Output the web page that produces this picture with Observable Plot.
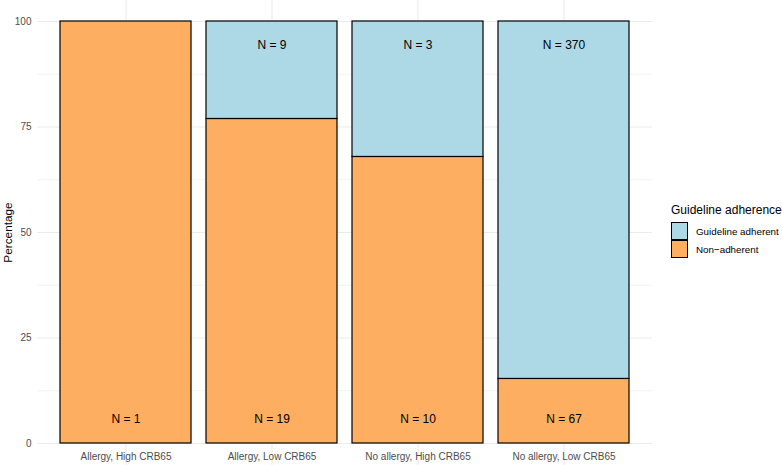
<!DOCTYPE html>
<html>
<head>
<meta charset="utf-8">
<script src="https://cdn.jsdelivr.net/npm/d3@7"></script>
<script src="https://cdn.jsdelivr.net/npm/@observablehq/plot@0.6"></script>
<style>
  html, body { margin: 0; padding: 0; background: #fff; }
  #wrap { position: relative; width: 782px; height: 465px; font-family: "Liberation Sans", Arial, sans-serif; }
  #legend { position: absolute; left: 671px; top: 203px; font-family: "Liberation Sans", Arial, sans-serif; }
  #legend .title { font-size: 12px; color: #000; margin-bottom: 5px; }
  #legend .item { display: flex; align-items: center; height: 18px; }
  #legend .sw { width: 17px; height: 18px; border: 1.2px solid #000; box-sizing: border-box; margin-right: 8px; }
  #legend .lab { font-size: 9.8px; color: #000; }
</style>
</head>
<body>
<div id="wrap"></div>
<script>
const categories = ["Allergy, High CRB65", "Allergy, Low CRB65", "No allergy, High CRB65", "No allergy, Low CRB65"];
const groups = ["Guideline adherent", "Non\u2212adherent"];
const nonAdherentPct = [100, 76.9, 67.9, 15.3];
const adherentPct = [0, 23.1, 32.1, 84.7];
const nonAdherentN = [1, 19, 10, 67];
const adherentN = [null, 9, 3, 370];
const colors = ["#ADD8E6", "#FDAE61"];
const majorTicks = [0, 25, 50, 75, 100];
const minorTicks = [12.5, 37.5, 62.5, 87.5];

const rows = [];
categories.forEach((c, i) => {
  rows.push({cat: c, group: groups[1], pct: nonAdherentPct[i], n: nonAdherentN[i], ord: 0});
  rows.push({cat: c, group: groups[0], pct: adherentPct[i], n: adherentN[i], ord: 1});
});
const bottomLabels = categories.map((c, i) => ({cat: c, label: "N = " + nonAdherentN[i]}));
const topLabels = categories.map((c, i) => ({cat: c, n: adherentN[i]})).filter(d => d.n != null).map(d => ({cat: d.cat, label: "N = " + d.n}));

const chart = Plot.plot({
  width: 782,
  height: 465,
  marginLeft: 37,
  marginRight: 130,
  marginTop: 21,
  marginBottom: 22,
  style: {fontFamily: "'Liberation Sans', Arial, sans-serif", background: "transparent", overflow: "visible"},
  x: {domain: categories, paddingInner: 0.1, paddingOuter: 0.15, label: null},
  y: {domain: [0, 100], label: null},
  color: {domain: groups, range: colors},
  marks: [
    Plot.ruleY(minorTicks, {stroke: "#ebebeb", strokeWidth: 0.6}),
    Plot.ruleY(majorTicks, {stroke: "#ebebeb", strokeWidth: 1.1}),
    Plot.ruleX(categories, {x: d => d, y1: -5.2, y2: 105, stroke: "#ebebeb", strokeWidth: 1.1}),
    Plot.barY(rows, Plot.stackY({x: "cat", y: "pct", fill: "group", order: "ord", stroke: "#000", strokeWidth: 1.2, inset: 0})),
    Plot.text(bottomLabels, {x: "cat", y: 5.7, text: "label", fontSize: 12, fill: "#000"}),
    Plot.text(topLabels, {x: "cat", y: 94.3, text: "label", fontSize: 12, fill: "#000"}),
    Plot.axisY({ticks: majorTicks, tickSize: 0, tickPadding: 6, fontSize: 10, color: "#4d4d4d", label: null}),
    Plot.axisX({tickSize: 0, tickPadding: 9, fontSize: 10, color: "#4d4d4d", label: null}),
    Plot.text(["Percentage"], {frameAnchor: "left", textAnchor: "middle", dx: -29, rotate: -90, fontSize: 11.8, fill: "#000"})
  ]
});
const wrap = document.getElementById("wrap");
wrap.appendChild(chart);

const legend = document.createElement("div");
legend.id = "legend";
legend.innerHTML = `<div class="title">Guideline adherence</div>` +
  groups.map((g, i) => `<div class="item"><div class="sw" style="background:${colors[i]}"></div><div class="lab">${g}</div></div>`).join("");
wrap.appendChild(legend);
</script>
</body>
</html>
